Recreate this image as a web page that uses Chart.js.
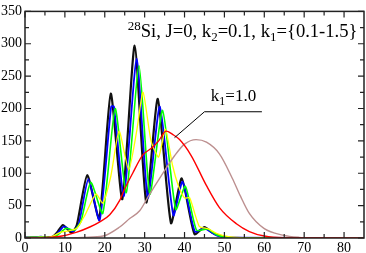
<!DOCTYPE html>
<html><head><meta charset="utf-8">
<script src="https://cdn.jsdelivr.net/npm/chart.js@4/dist/chart.umd.min.js"></script>
<style>html,body{margin:0;padding:0;background:#fff}</style>
</head><body>
<canvas id="c" width="366" height="253"></canvas>
<script>
// ---- data ----
const xTicks = [0,10,20,30,40,50,60,70,80];
const yTicks = [0,50,100,150,200,250,300,350];
const xMinor = [5,15,25,35,45,55,65,75,85];
const yMinor = [25,75,125,175,225,275,325];

const blackX = [0,2,4,6,7,8,9.5,11.7,13,15.6,18.6,21.5,24.4,27.5,30.4,33.3,36.6,39.3,42.5,45,47,50,55,85];
const blackY = [0.5,1,1.5,1,2,8,20,8,20,97,30,223,60,297,55,215,23,92,6,17,8,1,0,0];

const blueX = [0,2,4,6,7,8,9.8,12,13.5,15.9,18.7,21.6,22.3,24.8,28,30.8,33.8,37.2,39.5,42.6,45,48,51,85];
const blueY = [0.5,1,2,1,2,6,18,10,22,91,27,203,203,65,277,62,203,35,87,10,15,4,0.5,0];

const greenX = [0,2,4,6,7,8,10.3,12.3,14,16.5,19.5,22.6,25.4,28.6,31.3,34.5,37.8,40.2,43,45.8,48,51,85];
const greenY = [0.5,1,1.5,1,1.5,4,15,12,25,86,38,200,70,266,68,197,44,80,12,14,5,0.5,0];

const yellowX = [0,3,5,6,7,9,11,13,15,17.8,19.5,21.5,23.6,26,28,29.6,31.6,33.5,35.2,37,38.5,40,41.3,43.7,46,48,51,55,85];
const yellowY = [0.5,1,1.5,1,3,9,11,15,35,68,54,95,165,105,165,225,150,125,168,112,80,62,62,18,14,7,2,0.3,0];

const redX = [0,5,8,10.4,13,16.25,18.75,21.25,23.75,25,27,29.5,32,33.5,35.4,37,38.75,41.7,45.4,48.75,53,56.25,60,65,85];
const redY = [0,0.5,2,4.5,9,17,25,36,58,76,100,128,140,150,165,160,152,127,82,47,22,10,3,0.5,0];

const brownX = [0,10,15,19.6,23.75,26.25,28.75,31,33.75,37.5,40,42.9,45.5,48.75,52,54,56.25,60,64.6,68.75,72,85];
const brownY = [0,0.2,1,3,17,30,42,65,92,127,145,152,148,130,92,65,38,14.5,4.5,1,0.3,0];

const pointerX = [37.5,45,59.4];
const pointerY = [155,195,195];

const zip = (xs, ys) => xs.map((x,i)=>({x, y: ys[i]}));

const serif = "'Liberation Serif','DejaVu Serif',serif";

const overlay = {
  id: 'overlay',
  afterDraw(chart) {
    const {ctx, chartArea: a, scales: {x, y}} = chart;
    ctx.save();
    ctx.strokeStyle = '#222';
    ctx.lineWidth = 1.5;
    ctx.strokeRect(a.left, a.top, a.right - a.left, a.bottom - a.top);
    ctx.lineWidth = 1.2;
    ctx.beginPath();
    const tickX = (v, len) => {
      const p = x.getPixelForValue(v);
      ctx.moveTo(p, a.bottom); ctx.lineTo(p, a.bottom - len);
      ctx.moveTo(p, a.top); ctx.lineTo(p, a.top + len);
    };
    const tickY = (v, len) => {
      const p = y.getPixelForValue(v);
      ctx.moveTo(a.left, p); ctx.lineTo(a.left + len, p);
      ctx.moveTo(a.right, p); ctx.lineTo(a.right - len, p);
    };
    xTicks.forEach(v => tickX(v, 6));
    xMinor.forEach(v => { if (v < 85) tickX(v, 4); });
    yTicks.forEach(v => tickY(v, 6));
    yMinor.forEach(v => tickY(v, 4));
    ctx.stroke();

    // texts
    ctx.fillStyle = '#000';
    ctx.textBaseline = 'alphabetic';
    const run = (parts, px, py, size) => {
      let cx = px;
      parts.forEach(([t, kind]) => {
        const s = kind ? size * 0.7 : size;
        ctx.font = s + 'px ' + serif;
        const dy = kind === 'sup' ? -size * 0.38 : kind === 'sub' ? size * 0.25 : 0;
        ctx.fillText(t, cx, py + dy);
        cx += ctx.measureText(t).width;
      });
    };
    run([['28','sup'],['Si, J=0, k',null],['2','sub'],['=0.1, k',null],['1','sub'],['={0.1-1.5}',null]],
        x.getPixelForValue(25.75), y.getPixelForValue(311), 18.6);
    run([['k',null],['1','sub'],['=1.0',null]],
        x.getPixelForValue(46.6), y.getPixelForValue(212), 17);
    ctx.restore();
  }
};

new Chart(document.getElementById('c'), {
  type: 'line',
  data: {
    datasets: [
      {data: zip(pointerX, pointerY), borderColor: '#000', borderWidth: 1, tension: 0},
      {data: zip(redX, redY), borderColor: '#ff0000', borderWidth: 1.4, cubicInterpolationMode: 'monotone'},
      {data: zip(brownX, brownY), borderColor: '#bc8f8f', borderWidth: 1.4, cubicInterpolationMode: 'monotone'},
      {data: zip(yellowX, yellowY), borderColor: '#ffff00', borderWidth: 1.3},
      {data: zip(greenX, greenY), borderColor: '#00ff00', borderWidth: 1.6},
      {data: zip(blueX, blueY), borderColor: '#0000ff', borderWidth: 1.8},
      {data: zip(blackX, blackY), borderColor: '#111', borderWidth: 2.2}
    ]
  },
  options: {
    responsive: false,
    animation: false,
    devicePixelRatio: 1,
    layout: {padding: {top: 5, right: 2, left: 0, bottom: 0}},
    plugins: {legend: {display: false}, tooltip: {enabled: false}},
    elements: {point: {radius: 0}, line: {tension: 0.2, fill: false}},
    scales: {
      x: {
        type: 'linear', min: 0, max: 85,
        grid: {display: false, drawTicks: false}, border: {display: false},
        afterBuildTicks: s => { s.ticks = xTicks.map(v => ({value: v})); },
        afterFit: s => { s.height = 15; },
        ticks: {color: '#000', padding: 2, maxRotation: 0, autoSkip: false, font: {family: serif, size: 14}}
      },
      y: {
        type: 'linear', min: 0, max: 350,
        grid: {display: false, drawTicks: false}, border: {display: false},
        afterBuildTicks: s => { s.ticks = yTicks.map(v => ({value: v})); },
        afterFit: s => { s.width = 25; },
        ticks: {color: '#000', padding: 3, autoSkip: false, font: {family: serif, size: 14}}
      }
    }
  },
  plugins: [overlay]
});
</script>
</body></html>
